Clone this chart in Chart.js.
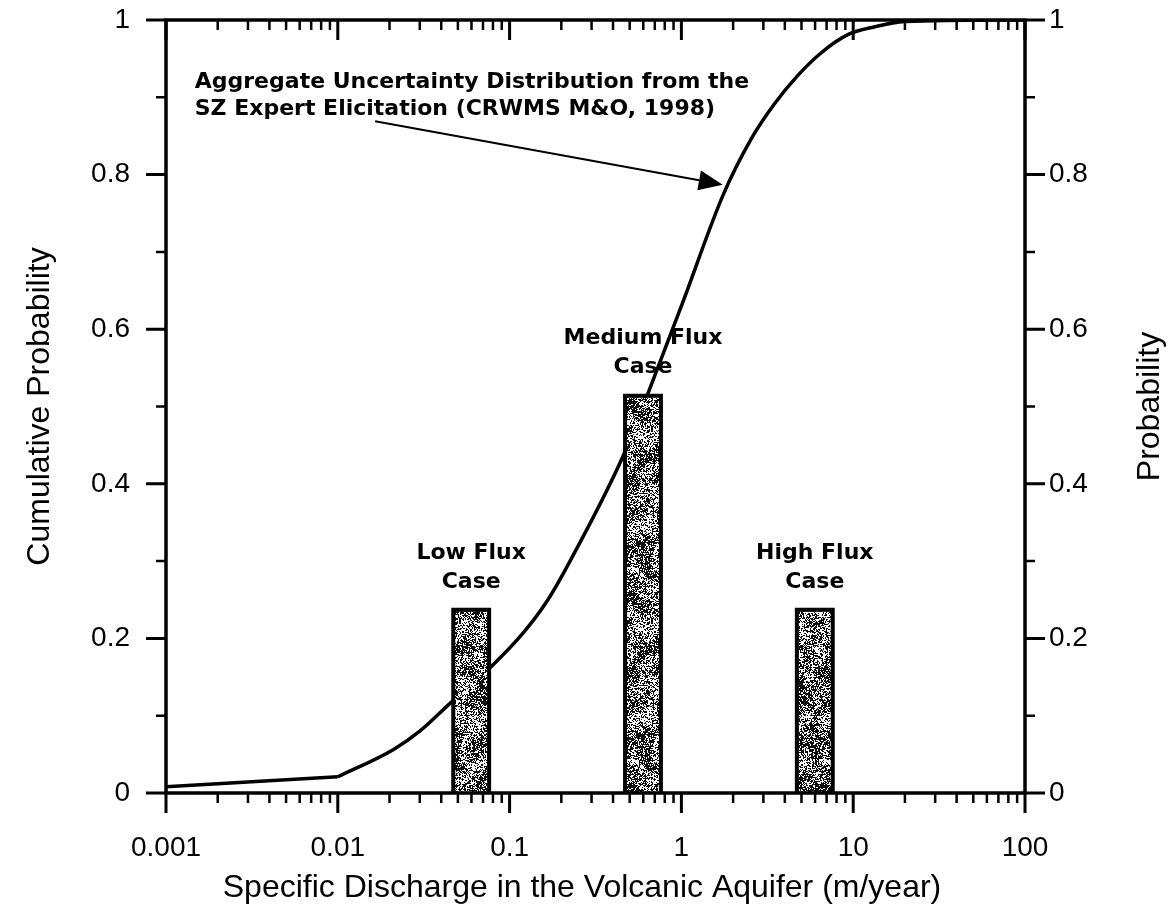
<!DOCTYPE html>
<html>
<head>
<meta charset="utf-8">
<title>Specific Discharge in the Volcanic Aquifer</title>
<script src="https://cdn.jsdelivr.net/npm/chart.js@4.4.1/dist/chart.umd.min.js"></script>
<style>
  html, body { margin: 0; padding: 0; background: #fff; }
  #wrap { width: 1175px; height: 920px; }
</style>
</head>
<body>
<div id="wrap"><canvas id="myChart" width="1175" height="920"></canvas></div>
<script>
// aggregate CDF of specific discharge (m/year); straight tail below 0.01
var cdfDischarge   = [0.001, 0.01, 0.021, 0.03, 0.045, 0.077, 0.12, 0.166, 0.226, 0.46, 0.644, 1.0, 1.76, 2.53, 3.44, 4.75, 6.47, 9.3, 13.2, 20, 100];
var cdfProbability = [0.008, 0.021, 0.056, 0.08, 0.116, 0.162, 0.207, 0.249, 0.301, 0.437, 0.519, 0.63, 0.775, 0.845, 0.89, 0.928, 0.957, 0.981, 0.991, 0.998, 1.0];
var cdfKink = 1; // index where the lower straight tail meets the smooth part

// the three flux cases (discrete probabilities)
var fluxCases       = [['Low Flux', 'Case'], ['Medium Flux', 'Case'], ['High Flux', 'Case']];
var caseLow         = [0.047, 0.47, 4.7];
var caseHigh        = [0.076, 0.76, 7.6];
var caseProbability = [0.237, 0.514, 0.237];

var dischargeTicks   = [0.001, 0.01, 0.1, 1, 10, 100];
var probabilityTicks = [0, 0.2, 0.4, 0.6, 0.8, 1];

var xTitle  = 'Specific Discharge in the Volcanic Aquifer (m/year)';
var yTitle  = 'Cumulative Probability';
var y1Title = 'Probability';

var noteLines = ['Aggregate Uncertainty Distribution from the', 'SZ Expert Elicitation (CRWMS M&O, 1998)'];
var noteAt    = { x: 0.00147, y: 0.92 };
var arrowFrom = { x: 0.0165, y: 0.869 };
var arrowTo   = { x: 1.74, y: 0.787 };

var FONT = "'Liberation Sans', Arial, sans-serif";
var BOLD = "'DejaVu Sans', 'Liberation Sans', Arial, sans-serif";

// speckled grey fill used for the bars
function makeStipple() {
  var w = 64, h = 192, cell = 8;
  var c = document.createElement('canvas');
  c.width = w; c.height = h;
  var g = c.getContext('2d');
  var img = g.createImageData(w, h);
  var seed = 12345;
  function rnd() { seed = (seed * 16807) % 2147483647; return seed / 2147483647; }
  var gw = w / cell + 1, gh = h / cell + 1, coarse = [];
  for (var i = 0; i < gw * gh; i++) coarse.push(rnd());
  for (var yy = 0; yy < gh; yy++) coarse[yy * gw + gw - 1] = coarse[yy * gw];
  for (var xx = 0; xx < gw; xx++) coarse[(gh - 1) * gw + xx] = coarse[xx];
  for (var py = 0; py < h; py++) {
    for (var px = 0; px < w; px++) {
      var gx = px / cell, gy = py / cell;
      var x0 = Math.floor(gx), y0 = Math.floor(gy), fx = gx - x0, fy = gy - y0;
      var a = coarse[y0 * gw + x0], b = coarse[y0 * gw + x0 + 1];
      var cc = coarse[(y0 + 1) * gw + x0], d = coarse[(y0 + 1) * gw + x0 + 1];
      var v = (a * (1 - fx) + b * fx) * (1 - fy) + (cc * (1 - fx) + d * fx) * fy;
      var dark = rnd() < 0.27 + 0.6 * v;
      var k = (py * w + px) * 4, col = dark ? 15 : 250;
      img.data[k] = col; img.data[k + 1] = col; img.data[k + 2] = col; img.data[k + 3] = 255;
    }
  }
  g.putImageData(img, 0, 0);
  return c;
}

function points(xs, ys) {
  var out = [];
  for (var i = 0; i < xs.length; i++) out.push({ x: xs[i], y: ys[i] });
  return out;
}

function getData(pattern) {
  var curveStyle = {
    yAxisID: 'y',
    borderColor: '#000',
    borderWidth: 3.5,
    pointRadius: 0,
    fill: false,
    order: 2
  };
  var datasets = [
    Object.assign({
      label: 'Aggregate CDF (tail)',
      data: points(cdfDischarge.slice(0, cdfKink + 1), cdfProbability.slice(0, cdfKink + 1)),
      tension: 0
    }, curveStyle),
    Object.assign({
      label: 'Aggregate CDF',
      data: points(cdfDischarge.slice(cdfKink), cdfProbability.slice(cdfKink)),
      cubicInterpolationMode: 'monotone'
    }, curveStyle)
  ];
  for (var j = 0; j < fluxCases.length; j++) {
    datasets.push({
      label: fluxCases[j].join(' '),
      data: [
        { x: caseLow[j], y: 0 },
        { x: caseLow[j], y: caseProbability[j] },
        { x: caseHigh[j], y: caseProbability[j] },
        { x: caseHigh[j], y: 0 }
      ],
      yAxisID: 'y1',
      borderColor: '#000',
      borderWidth: 4,
      borderJoinStyle: 'miter',
      backgroundColor: pattern,
      pointRadius: 0,
      tension: 0,
      fill: 'origin',
      order: 1
    });
  }
  return { datasets: datasets };
}

function isDecade(v) {
  var l = Math.log10(v);
  return Math.abs(l - Math.round(l)) < 1e-9;
}

function noPad(scale) {
  scale.paddingTop = 0; scale.paddingBottom = 0;
  scale.paddingLeft = 0; scale.paddingRight = 0;
}

// axis box with tick marks, axis titles and annotations
var frame = {
  id: 'frame',
  afterDatasetsDraw: function(chart) {
    var ctx = chart.ctx, a = chart.chartArea;
    var xs = chart.scales.x, ys = chart.scales.y;
    ctx.save();
    ctx.strokeStyle = '#000';
    ctx.lineCap = 'butt';
    ctx.lineWidth = 3.5;
    ctx.strokeRect(a.left, a.top, a.right - a.left, a.bottom - a.top);

    for (var i = 0; i <= 10; i++) {
      var py = ys.getPixelForValue(i / 10);
      var len = i % 2 === 0 ? 20 : 10;
      ctx.lineWidth = i % 2 === 0 ? 3 : 2.5;
      ctx.beginPath();
      ctx.moveTo(a.left, py); ctx.lineTo(a.left - len, py);
      ctx.moveTo(a.right, py); ctx.lineTo(a.right + len, py);
      ctx.stroke();
    }
    for (var e = -3; e <= 2; e++) {
      for (var k = 1; k <= 9; k++) {
        if (e === 2 && k > 1) break;
        var px = xs.getPixelForValue(k * Math.pow(10, e));
        var major = k === 1;
        var l2 = major ? 20 : 10;
        ctx.lineWidth = major ? 3 : 2.5;
        ctx.beginPath();
        ctx.moveTo(px, a.bottom); ctx.lineTo(px, a.bottom + l2);
        ctx.moveTo(px, a.top); ctx.lineTo(px, a.top + l2);
        ctx.stroke();
      }
    }
    ctx.restore();
  },
  afterDraw: function(chart) {
    var ctx = chart.ctx, a = chart.chartArea;
    var xs = chart.scales.x, ys = chart.scales.y, y1 = chart.scales.y1;
    ctx.save();
    ctx.fillStyle = '#000';

    // axis titles
    ctx.font = '32px ' + FONT;
    ctx.textAlign = 'center';
    ctx.textBaseline = 'middle';
    ctx.fillText(xTitle, 582, 888);
    var midY = (a.top + a.bottom) / 2;
    ctx.save();
    ctx.translate(40, midY); ctx.rotate(-Math.PI / 2);
    ctx.fillText(yTitle, 0, 0);
    ctx.restore();
    ctx.save();
    ctx.translate(1150, midY); ctx.rotate(-Math.PI / 2);
    ctx.fillText(y1Title, 0, 0);
    ctx.restore();

    // case labels above each bar
    ctx.font = 'bold 22px ' + BOLD;
    for (var j = 0; j < fluxCases.length; j++) {
      var cx = xs.getPixelForValue(Math.sqrt(caseLow[j] * caseHigh[j]));
      var top = y1.getPixelForValue(caseProbability[j]);
      ctx.fillText(fluxCases[j][0], cx, top - 57);
      ctx.fillText(fluxCases[j][1], cx, top - 28);
    }

    // note and arrow pointing to the curve
    ctx.textAlign = 'left';
    var nx = xs.getPixelForValue(noteAt.x), ny = ys.getPixelForValue(noteAt.y);
    ctx.fillText(noteLines[0], nx, ny);
    ctx.fillText(noteLines[1], nx, ny + 27);

    var x0 = xs.getPixelForValue(arrowFrom.x), y0 = ys.getPixelForValue(arrowFrom.y);
    var x1 = xs.getPixelForValue(arrowTo.x), y1p = ys.getPixelForValue(arrowTo.y);
    var ang = Math.atan2(y1p - y0, x1 - x0);
    var head = 24, half = 10;
    var bx = x1 - head * Math.cos(ang), by = y1p - head * Math.sin(ang);
    ctx.strokeStyle = '#000';
    ctx.lineWidth = 2;
    ctx.beginPath();
    ctx.moveTo(x0, y0); ctx.lineTo(bx, by);
    ctx.stroke();
    ctx.beginPath();
    ctx.moveTo(x1, y1p);
    ctx.lineTo(bx + half * Math.sin(ang), by - half * Math.cos(ang));
    ctx.lineTo(bx - half * Math.sin(ang), by + half * Math.cos(ang));
    ctx.closePath();
    ctx.fill();
    ctx.restore();
  }
};

window.onload = function() {
  var pattern = document.getElementById('myChart').getContext('2d').createPattern(makeStipple(), 'repeat');
  var tickFont = { family: FONT, size: 28 };

  var myChart = new Chart(document.getElementById('myChart').getContext('2d'), {
    type: 'line',
    data: getData(pattern),
    plugins: [frame],
    options: {
      responsive: false,
      animation: false,
      layout: { padding: { top: 20, left: 0, right: 0, bottom: 0 } },
      plugins: { legend: { display: false }, tooltip: { enabled: false } },
      scales: {
        x: {
          type: 'logarithmic',
          min: 0.001,
          max: 100,
          afterBuildTicks: function(scale) {
            scale.ticks = dischargeTicks.map(function(v) { return { value: v }; });
          },
          afterFit: function(scale) { scale.height = 127; noPad(scale); },
          ticks: {
            autoSkip: false,
            maxRotation: 0,
            color: '#000',
            font: tickFont,
            padding: 18,
            callback: function(v) { return isDecade(v) ? String(v) : ''; }
          },
          grid: { color: 'transparent', tickLength: 20 },
          border: { display: false }
        },
        y: {
          position: 'left',
          min: 0,
          max: 1,
          afterBuildTicks: function(scale) {
            scale.ticks = probabilityTicks.map(function(v) { return { value: v }; });
          },
          afterFit: function(scale) { scale.width = 166; noPad(scale); },
          ticks: { color: '#000', font: tickFont, padding: 16, callback: function(v) { return String(v); } },
          grid: { color: 'transparent', tickLength: 20 },
          border: { display: false }
        },
        y1: {
          position: 'right',
          min: 0,
          max: 1,
          afterBuildTicks: function(scale) {
            scale.ticks = probabilityTicks.map(function(v) { return { value: v }; });
          },
          afterFit: function(scale) { scale.width = 150; noPad(scale); },
          ticks: { color: '#000', font: tickFont, padding: 4, callback: function(v) { return String(v); } },
          grid: { color: 'transparent', tickLength: 20, drawOnChartArea: false },
          border: { display: false }
        }
      }
    }
  });
};
</script>
</body>
</html>
